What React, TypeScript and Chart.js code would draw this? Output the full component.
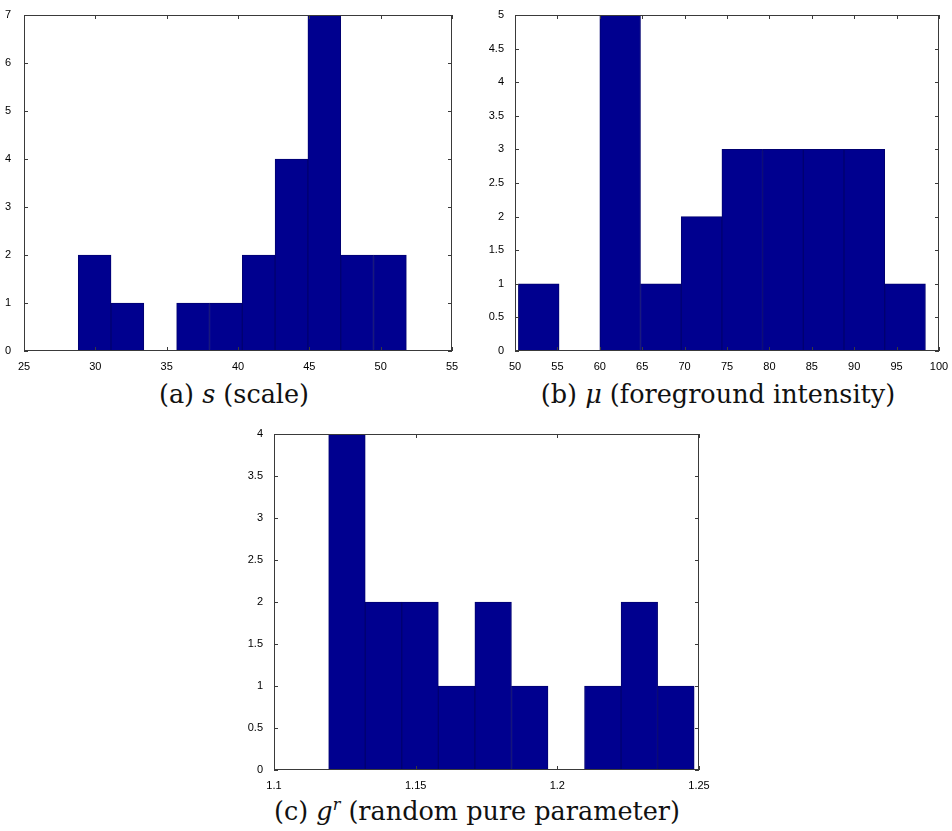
import React, { useEffect, useRef } from 'react';
import { Chart, registerables } from 'chart.js';
Chart.register(...registerables);

// (a) s (scale)
const scaleBinCenters = [29.95, 32.25, 34.55, 36.85, 39.15, 41.45, 43.75, 46.05, 48.35, 50.65];
const scaleCounts = [2, 1, 0, 1, 1, 2, 4, 7, 2, 2];
const scaleXTicks = [25, 30, 35, 40, 45, 50, 55];
const scaleYTicks = [0, 1, 2, 3, 4, 5, 6, 7];

// (b) mu (foreground intensity)
const muBinCenters = [52.8, 57.6, 62.4, 67.2, 72.0, 76.8, 81.6, 86.4, 91.2, 96.0];
const muCounts = [1, 0, 5, 1, 2, 3, 3, 3, 3, 1];
const muXTicks = [50, 55, 60, 65, 70, 75, 80, 85, 90, 95, 100];
const muYTicks = [0, 0.5, 1, 1.5, 2, 2.5, 3, 3.5, 4, 4.5, 5];

// (c) g^r (random pure parameter)
const grBinCenters = [1.12575, 1.13865, 1.15155, 1.16445, 1.17735, 1.19025, 1.20315, 1.21605, 1.22895, 1.24185];
const grCounts = [4, 2, 2, 1, 2, 1, 0, 1, 2, 1];
const grXTicks = [1.1, 1.15, 1.2, 1.25];
const grYTicks = [0, 0.5, 1, 1.5, 2, 2.5, 3, 3.5, 4];

const fmt = (v: any) => String(+Number(v).toFixed(3));

const boxTicks = {
  id: 'boxTicks',
  afterDatasetsDraw(chart: any) {
    const { ctx, chartArea: a, scales } = chart;
    ctx.save();
    ctx.strokeStyle = '#3a3a3a';
    ctx.lineWidth = 1;
    ctx.strokeRect(a.left + 0.5, a.top + 0.5, a.right - a.left - 1, a.bottom - a.top - 1);
    const len = 4;
    ctx.beginPath();
    scales.x.ticks.forEach((t: any) => {
      const px = Math.round(scales.x.getPixelForValue(t.value)) + 0.5;
      ctx.moveTo(px, a.bottom);
      ctx.lineTo(px, a.bottom - len);
      ctx.moveTo(px, a.top);
      ctx.lineTo(px, a.top + len);
    });
    scales.y.ticks.forEach((t: any) => {
      const py = Math.round(scales.y.getPixelForValue(t.value)) + 0.5;
      ctx.moveTo(a.left, py);
      ctx.lineTo(a.left + len, py);
      ctx.moveTo(a.right, py);
      ctx.lineTo(a.right - len, py);
    });
    ctx.stroke();
    ctx.restore();
  },
};

type HistProps = {
  centers: number[];
  counts: number[];
  xTicks: number[];
  yTicks: number[];
  left: number;
  top: number;
  width: number;
  height: number;
  yAxisWidth: number;
  xAxisHeight: number;
  padTop: number;
  padRight: number;
  yPad: number;
};

function Hist(p: HistProps) {
  const ref = useRef<HTMLCanvasElement>(null);
  useEffect(() => {
    const tickFont = { family: '"Liberation Sans", Arial, sans-serif', size: 11 };
    const chart = new Chart(ref.current as HTMLCanvasElement, {
      type: 'bar',
      data: {
        datasets: [
          {
            data: p.centers.map((c, i) => ({ x: c, y: p.counts[i] })),
            backgroundColor: '#00008f',
            borderColor: '#000070',
            borderWidth: 1,
            borderSkipped: false,
            barPercentage: 1,
            categoryPercentage: 1,
          } as any,
        ],
      },
      options: {
        animation: false,
        responsive: false,
        maintainAspectRatio: false,
        layout: { padding: { top: p.padTop, right: p.padRight, left: 0, bottom: 0 } },
        plugins: { legend: { display: false }, tooltip: { enabled: false } },
        scales: {
          x: {
            type: 'linear',
            min: p.xTicks[0],
            max: p.xTicks[p.xTicks.length - 1],
            offset: false,
            grid: { display: false },
            border: { display: false },
            afterBuildTicks: (s: any) => {
              s.ticks = p.xTicks.map((v) => ({ value: v }));
            },
            afterFit: (s: any) => {
              s.height = p.xAxisHeight;
            },
            ticks: {
              padding: 1,
              maxRotation: 0,
              autoSkip: false,
              color: '#000',
              font: tickFont,
              callback: fmt,
            },
          },
          y: {
            type: 'linear',
            min: p.yTicks[0],
            max: p.yTicks[p.yTicks.length - 1],
            grid: { display: false },
            border: { display: false },
            afterBuildTicks: (s: any) => {
              s.ticks = p.yTicks.map((v) => ({ value: v }));
            },
            afterFit: (s: any) => {
              s.width = p.yAxisWidth;
            },
            ticks: {
              padding: p.yPad,
              autoSkip: false,
              color: '#000',
              font: tickFont,
              callback: fmt,
            },
          },
        } as any,
      },
      plugins: [boxTicks],
    });
    return () => chart.destroy();
  }, []);
  return (
    <canvas
      ref={ref}
      width={p.width}
      height={p.height}
      style={{ position: 'absolute', left: p.left, top: p.top, width: p.width, height: p.height }}
    />
  );
}

const capStyle: React.CSSProperties = {
  position: 'absolute',
  fontFamily: '"DejaVu Serif", serif',
  fontSize: 25.5,
  whiteSpace: 'nowrap',
  transform: 'translateX(-50%)',
  color: '#111',
  lineHeight: '30px',
};

export default function App() {
  return (
    <div style={{ position: 'absolute', left: 0, top: 0, width: 952, height: 831, background: '#fff' }}>
      <Hist
        centers={scaleBinCenters}
        counts={scaleCounts}
        xTicks={scaleXTicks}
        yTicks={scaleYTicks}
        left={0}
        top={0}
        width={470}
        height={372}
        yAxisWidth={24}
        xAxisHeight={21}
        padTop={15}
        padRight={18}
        yPad={5}
      />
      <Hist
        centers={muBinCenters}
        counts={muCounts}
        xTicks={muXTicks}
        yTicks={muYTicks}
        left={470}
        top={0}
        width={482}
        height={372}
        yAxisWidth={45}
        xAxisHeight={21}
        padTop={15}
        padRight={13}
        yPad={3}
      />
      <Hist
        centers={grBinCenters}
        counts={grCounts}
        xTicks={grXTicks}
        yTicks={grYTicks}
        left={230}
        top={420}
        width={500}
        height={372}
        yAxisWidth={44}
        xAxisHeight={22}
        padTop={14}
        padRight={31}
        yPad={3}
      />
      <div style={{ ...capStyle, left: 234, top: 379 }}>
        (a) <i>s</i> (scale)
      </div>
      <div style={{ ...capStyle, left: 718, top: 379 }}>
        (b) <i>μ</i> (foreground intensity)
      </div>
      <div style={{ ...capStyle, left: 477, top: 796 }}>
        (c) <i>g</i>
        <sup style={{ fontSize: 16, fontStyle: 'italic', verticalAlign: '10px', lineHeight: 0 }}>r</sup> (random pure
        parameter)
      </div>
    </div>
  );
}
